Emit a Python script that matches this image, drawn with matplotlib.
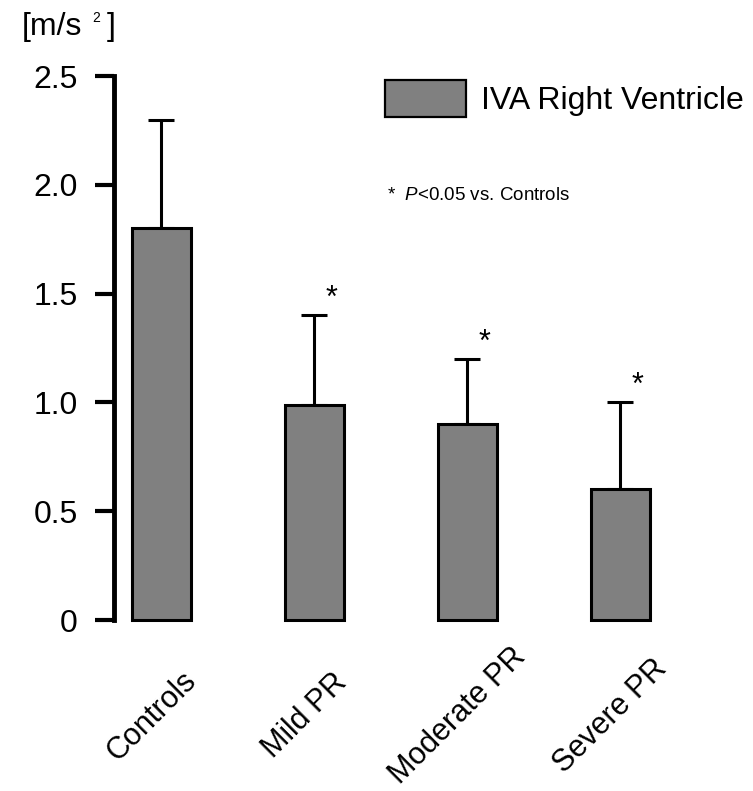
import matplotlib
matplotlib.use("Agg")
import matplotlib.pyplot as plt
from matplotlib.transforms import ScaledTranslation

plt.rcParams['font.family'] = ['Liberation Sans', 'DejaVu Sans']
plt.rcParams['mathtext.fontset'] = 'custom'
plt.rcParams['mathtext.it'] = 'Liberation Sans:italic'
plt.rcParams['mathtext.rm'] = 'Liberation Sans'

# data
groups = ["Controls", "Mild PR", "Moderate PR", "Severe PR"]
means = [1.80, 0.99, 0.90, 0.60]
sd_upper = [0.50, 0.41, 0.30, 0.40]
significant = [False, True, True, True]
yticks = [0, 0.5, 1.0, 1.5, 2.0, 2.5]
ytick_labels = ["0", "0.5", "1.0", "1.5", "2.0", "2.5"]

W, H = 753, 791
fig = plt.figure(figsize=(W / 100, H / 100), dpi=100)
ax = fig.add_axes([114 / W, 1 - 620 / H, (720 - 114) / W, (620 - 76) / H])

x = list(range(len(groups)))
bars = ax.bar(x, means, width=0.385, color="#808080", edgecolor="black",
              linewidth=2.2, label="IVA Right Ventricle", clip_on=False, zorder=2)
ax.errorbar(x, means, yerr=[[0] * len(x), sd_upper], fmt="none", ecolor="black",
            elinewidth=2.2, capsize=9.5, capthick=2.2, clip_on=False, zorder=1)

# significance stars, just right of each error bar cap
for xi, m, s, sig in zip(x, means, sd_upper, significant):
    if sig:
        ax.text(xi + 0.11, m + s + 0.005, "*", fontsize=22, ha="center", va="bottom")

ax.set_xlim(-0.31, (720 - 161.5) / 153)
ax.set_ylim(0, 2.5)
ax.set_yticks(yticks)
ax.set_yticklabels(ytick_labels, fontsize=23)
ax.tick_params(axis="y", length=14, width=3, pad=12, direction="out")
ax.set_xticks(x)
ax.set_xticklabels(groups, fontsize=22, rotation=45, ha="center", va="center",
                   rotation_mode="anchor")
ax.tick_params(axis="x", length=0, pad=0)
offset = ScaledTranslation(-0.10, -0.96, fig.dpi_scale_trans)
for lbl in ax.get_xticklabels():
    lbl.set_transform(lbl.get_transform() + offset)

for side in ["top", "right", "bottom"]:
    ax.spines[side].set_visible(False)
ax.spines["left"].set_linewidth(3.5)

leg = ax.legend(loc="upper left", bbox_to_anchor=(385 / W, 1 - 80 / H),
                bbox_transform=fig.transFigure, frameon=False, fontsize=23,
                handlelength=2.54, handleheight=1.4, handletextpad=0.45,
                borderpad=0, borderaxespad=0)
for p in leg.get_patches():
    p.set_linewidth(1.6)

fig.text(387 / W, 1 - 196 / H, r"*  $\it{P}$<0.05 vs. Controls", fontsize=13.5,
         ha="left", va="center")

# unit label with small raised 2
fig.text(22 / W, 1 - 35 / H, "[m/s", fontsize=23, ha="left", va="baseline")
fig.text(92 / W, 1 - 22 / H, "2", fontsize=10, ha="left", va="baseline")
fig.text(107 / W, 1 - 35 / H, "]", fontsize=23, ha="left", va="baseline")

fig.savefig("out.png", dpi=100)
